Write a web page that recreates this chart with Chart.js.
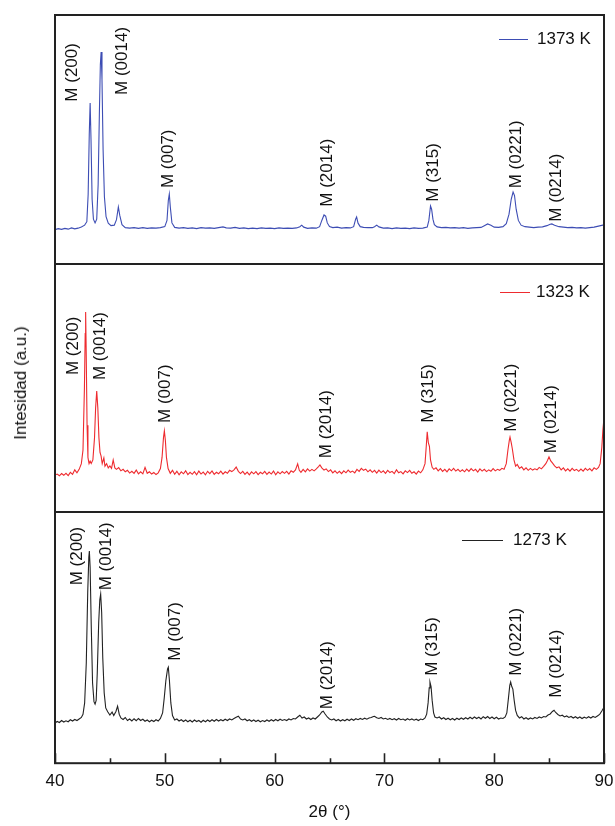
<!DOCTYPE html>
<html>
<head>
<meta charset="utf-8">
<script src="https://cdn.jsdelivr.net/npm/chart.js@4/dist/chart.umd.min.js"></script>
<style>
html,body{margin:0;padding:0;background:#fff;}
body{width:615px;height:826px;position:relative;overflow:hidden;font-family:"Liberation Sans",Arial,sans-serif;}
.panel{position:absolute;left:0;width:630px;}
#ytitle{position:absolute;left:21px;top:383px;transform:translate(-50%,-50%) rotate(-90deg);font-size:17px;white-space:nowrap;color:#111;}
</style>
</head>
<body>
<div class="panel" style="top:0;height:268px"><canvas id="c1"></canvas></div>
<div class="panel" style="top:260px;height:256px"><canvas id="c2"></canvas></div>
<div class="panel" style="top:508px;height:318px"><canvas id="c3"></canvas></div>
<div id="ytitle">Intesidad (a.u.)</div>
<script>
// ---------- DATA ----------
const xTicks = [40, 50, 60, 70, 80, 90];
const xMinorTicks = [45, 55, 65, 75, 85];
const seriesLabels = ['1373 K', '1323 K', '1273 K'];
const xAxisTitle = '2\u03b8 (\u00b0)';
const peakLabels = ['M (200)', 'M (0014)', 'M (007)', 'M (2014)', 'M (315)', 'M (0221)', 'M (0214)'];

// [2theta, intensity a.u.]
const pattern1373 = [
[40.0,13.8],[40.3,14.2],[40.6,13.9],[40.9,14.3],[41.2,14.0],[41.5,14.5],[41.8,14.1],[42.1,14.4],[42.4,14.9],[42.7,15.6],
[42.9,17.0],[43.02,28],[43.12,52],[43.2,64.7],[43.28,50],[43.38,26],[43.5,18],[43.65,16.5],[43.8,18],[43.93,32],
[44.04,60],[44.13,80],[44.2,85.1],[44.28,74],[44.38,46],[44.5,27],[44.65,19],[44.85,16.4],[45.1,15.4],[45.4,15.6],
[45.6,17.8],[45.77,22.9],[45.9,19.5],[46.1,15.8],[46.4,14.6],[46.8,14.4],[47.2,14.6],[47.6,14.3],[48.0,14.6],[48.4,14.3],
[48.8,14.5],[49.2,14.4],[49.6,14.6],[50.0,15.0],[50.2,17.5],[50.32,25.5],[50.41,28.1],[50.5,23],[50.65,16.5],[50.9,14.7],
[51.3,14.4],[51.7,14.6],[52.1,14.3],[52.5,14.5],[52.9,14.2],[53.3,14.6],[53.7,14.4],[54.1,14.5],[54.5,14.3],[54.9,14.6],
[55.3,14.9],[55.6,14.5],[56.0,14.4],[56.4,14.7],[56.8,14.3],[57.2,14.5],[57.6,14.2],[58.0,14.4],[58.4,14.2],[58.8,14.5],
[59.2,14.3],[59.6,14.4],[60.0,14.2],[60.4,14.5],[60.8,14.3],[61.2,14.4],[61.6,14.3],[62.0,14.5],[62.3,15.0],[62.47,15.6],
[62.65,14.8],[63.0,14.3],[63.4,14.5],[63.8,14.4],[64.1,15.0],[64.3,17.5],[64.5,19.7],[64.65,19.2],[64.8,16.5],[65.0,15.0],
[65.3,14.6],[65.7,14.8],[66.1,14.4],[66.5,14.6],[66.9,14.5],[67.2,15.0],[67.38,18.0],[67.47,18.9],[67.6,16.4],[67.8,15.0],
[68.1,14.7],[68.5,14.6],[68.9,14.6],[69.1,15.0],[69.3,15.6],[69.5,14.9],[69.9,14.4],[70.3,14.5],[70.7,14.2],[71.1,14.5],
[71.5,14.3],[71.9,14.4],[72.3,14.2],[72.7,14.5],[73.1,14.3],[73.5,14.4],[73.9,14.8],[74.05,17.5],[74.2,23.3],[74.3,22],
[74.42,18],[74.55,15.8],[74.8,14.9],[75.2,14.6],[75.6,14.7],[76.0,14.5],[76.4,14.6],[76.8,14.4],[77.2,14.6],[77.6,14.3],
[78.0,14.5],[78.4,14.6],[78.8,14.7],[79.1,15.4],[79.4,16.1],[79.7,15.6],[80.0,14.8],[80.4,14.7],[80.8,15.0],[81.1,16.2],
[81.35,20],[81.55,26],[81.72,28.9],[81.85,27.5],[82.0,22],[82.2,17.5],[82.45,15.6],[82.8,15.0],[83.2,14.8],[83.6,14.6],
[84.0,14.8],[84.4,14.9],[84.8,15.4],[85.1,16.0],[85.25,16.1],[85.5,15.6],[85.9,15.0],[86.3,14.8],[86.7,14.6],[87.1,14.7],
[87.5,14.5],[87.9,14.6],[88.3,14.4],[88.7,14.6],[89.1,14.8],[89.5,15.2],[90.0,15.7]
];

const pattern1323 = [
[40.0,14.9],[40.2,15.3],[40.4,14.6],[40.6,15.5],[40.8,14.8],[41.0,15.6],[41.2,14.7],[41.4,16.0],[41.6,15.2],[41.8,17.0],
[42.0,15.8],[42.2,17.2],[42.4,19.5],[42.55,25],[42.68,50],[42.75,72],[42.79,80.6],[42.84,65],[42.92,35],[43.0,22],
[43.1,19.5],[43.2,20.5],[43.3,19.6],[43.45,21],[43.6,30],[43.7,42],[43.8,48.8],[43.9,42],[44.0,30],[44.1,24],
[44.2,22.5],[44.3,19.5],[44.45,21.8],[44.55,18.5],[44.7,19.5],[44.85,17.8],[45.0,18.6],[45.15,17.6],[45.3,21.0],[45.45,17.8],
[45.6,17.2],[45.8,17.9],[46.0,16.6],[46.2,17.2],[46.4,16.2],[46.6,16.8],[46.8,15.7],[47.0,16.4],[47.2,15.6],[47.4,16.9],
[47.6,15.4],[47.8,16.2],[48.0,15.4],[48.2,18.0],[48.4,15.6],[48.6,16.2],[48.8,15.3],[49.0,15.9],[49.2,15.1],[49.4,15.8],
[49.6,17.5],[49.75,22],[49.88,30],[49.96,32.7],[50.05,29],[50.15,22],[50.3,17.5],[50.5,15.6],[50.7,16.8],[50.9,15.2],
[51.1,16.4],[51.3,15.0],[51.5,16.2],[51.7,15.4],[51.9,16.6],[52.1,15.1],[52.3,16.0],[52.5,15.2],[52.7,16.3],[52.9,15.0],
[53.1,16.5],[53.3,15.3],[53.5,16.1],[53.7,15.0],[53.9,16.4],[54.1,15.5],[54.3,16.6],[54.5,15.2],[54.7,16.0],[54.9,15.4],
[55.1,16.5],[55.3,15.3],[55.5,16.2],[55.7,15.6],[55.9,16.8],[56.1,16.3],[56.3,17.0],[56.5,18.1],[56.7,16.4],[56.9,15.5],
[57.1,16.4],[57.3,15.2],[57.5,16.1],[57.7,15.0],[57.9,16.2],[58.1,15.4],[58.3,16.3],[58.5,15.1],[58.7,16.0],[58.9,15.4],
[59.1,16.4],[59.3,15.2],[59.5,16.1],[59.7,15.3],[59.9,16.5],[60.1,15.0],[60.3,16.2],[60.5,15.4],[60.7,16.3],[60.9,15.6],
[61.1,16.4],[61.3,15.3],[61.5,16.6],[61.7,16.0],[61.9,17.0],[62.1,19.4],[62.25,16.8],[62.4,16.0],[62.6,17.2],[62.8,16.2],
[63.0,17.4],[63.2,16.5],[63.4,17.2],[63.6,16.6],[63.8,17.4],[64.0,18.3],[64.13,19.0],[64.3,17.8],[64.5,16.9],[64.7,17.4],
[64.9,16.3],[65.1,17.0],[65.3,15.8],[65.5,16.6],[65.7,15.6],[65.9,16.4],[66.1,15.5],[66.3,16.6],[66.5,15.8],[66.7,16.9],
[66.9,16.0],[67.1,16.5],[67.3,15.8],[67.5,17.2],[67.7,16.4],[67.9,17.6],[68.1,16.8],[68.3,17.3],[68.5,16.2],[68.7,17.0],
[68.9,16.0],[69.1,16.8],[69.3,15.7],[69.5,16.9],[69.7,15.9],[69.9,16.6],[70.1,15.6],[70.3,16.8],[70.5,15.9],[70.7,16.4],
[70.9,15.5],[71.1,17.0],[71.3,15.8],[71.5,16.3],[71.7,15.4],[71.9,16.6],[72.1,15.9],[72.3,16.8],[72.5,15.6],[72.7,16.2],
[72.9,15.3],[73.1,16.5],[73.3,15.8],[73.5,17.0],[73.7,19.5],[73.82,27],[73.9,32.3],[74.0,28],[74.1,26.5],[74.2,21],
[74.35,18],[74.5,17.2],[74.7,17.8],[74.9,16.6],[75.1,17.5],[75.3,16.4],[75.5,17.2],[75.7,16.2],[75.9,17.4],[76.1,16.6],
[76.3,17.6],[76.5,16.5],[76.7,17.2],[76.9,16.3],[77.1,17.0],[77.3,16.2],[77.5,17.3],[77.7,16.4],[77.9,17.5],[78.1,16.6],
[78.3,17.2],[78.5,16.1],[78.7,17.4],[78.9,16.5],[79.1,17.2],[79.3,16.3],[79.5,17.0],[79.7,16.4],[79.9,17.5],[80.1,16.6],
[80.3,17.2],[80.5,16.8],[80.7,17.6],[80.9,17.2],[81.1,19.5],[81.25,25],[81.38,29],[81.44,30.2],[81.55,28],[81.65,25.5],
[81.8,21],[81.95,18.5],[82.1,19.2],[82.3,17.6],[82.5,18.2],[82.7,17.0],[82.9,17.8],[83.1,16.8],[83.3,17.6],[83.5,16.9],
[83.7,17.4],[83.9,17.0],[84.1,18.0],[84.3,17.4],[84.5,18.4],[84.7,19.5],[84.85,20.8],[84.99,22.2],[85.15,20.6],[85.3,19.8],
[85.5,18.6],[85.7,17.8],[85.9,18.2],[86.1,17.0],[86.3,17.8],[86.5,16.6],[86.7,17.4],[86.9,16.5],[87.1,17.6],[87.3,16.7],
[87.5,17.2],[87.7,16.4],[87.9,17.3],[88.1,16.5],[88.3,17.6],[88.5,16.8],[88.7,17.5],[88.9,16.6],[89.1,17.8],[89.3,17.2],
[89.5,18.0],[89.65,19.5],[89.8,26],[89.9,33],[90.0,37.9]
];

const pattern1273 = [
[40.0,16.0],[40.2,16.6],[40.4,16.2],[40.6,17.0],[40.8,16.4],[41.0,16.9],[41.2,16.5],[41.4,17.3],[41.6,16.8],[41.8,17.4],
[42.0,17.0],[42.2,17.6],[42.4,18.2],[42.55,19.5],[42.7,24],[42.85,40],[42.98,68],[43.08,82],[43.13,84.5],[43.2,78],
[43.3,55],[43.42,32],[43.55,24.5],[43.65,23.5],[43.75,25],[43.85,36],[43.98,56],[44.08,65],[44.16,67.3],[44.25,60],
[44.35,42],[44.48,28],[44.62,22],[44.8,20.5],[45.0,19.2],[45.2,20.4],[45.35,19.0],[45.55,20.6],[45.7,22.7],[45.85,19.5],
[46.0,18.0],[46.2,17.4],[46.4,18.2],[46.6,17.0],[46.8,17.6],[47.0,16.8],[47.2,17.7],[47.4,16.9],[47.6,17.8],[47.8,17.0],
[48.0,17.5],[48.2,16.7],[48.4,17.2],[48.6,16.5],[48.8,17.1],[49.0,16.6],[49.2,17.3],[49.4,16.8],[49.6,17.8],[49.8,20],
[49.95,26],[50.1,33],[50.25,37.5],[50.32,38.2],[50.42,33],[50.55,24],[50.7,19],[50.9,17.2],[51.1,17.6],[51.3,16.8],
[51.5,17.3],[51.7,16.6],[51.9,17.2],[52.1,16.5],[52.3,17.1],[52.5,16.4],[52.7,17.2],[52.9,16.6],[53.1,17.0],[53.3,16.3],
[53.5,17.1],[53.7,16.5],[53.9,17.2],[54.1,16.6],[54.3,17.3],[54.5,16.7],[54.7,17.4],[54.9,16.8],[55.1,17.3],[55.3,16.9],
[55.5,17.5],[55.7,17.0],[55.9,17.6],[56.1,17.2],[56.3,17.8],[56.5,18.3],[56.7,18.7],[56.9,17.6],[57.1,17.2],[57.3,17.6],
[57.5,16.9],[57.7,17.3],[57.9,16.7],[58.1,17.2],[58.3,16.6],[58.5,17.1],[58.7,16.5],[58.9,17.0],[59.1,16.6],[59.3,17.2],
[59.5,16.7],[59.7,17.3],[59.9,16.8],[60.1,17.4],[60.3,16.9],[60.5,17.5],[60.7,17.0],[60.9,17.4],[61.1,17.0],[61.3,17.6],
[61.5,17.2],[61.7,17.8],[61.9,17.6],[62.1,18.4],[62.3,19.1],[62.5,18.0],[62.7,18.4],[62.9,17.6],[63.1,18.0],[63.3,17.4],
[63.5,18.0],[63.7,17.6],[63.9,18.4],[64.1,19.2],[64.3,20.4],[64.43,20.7],[64.6,19.6],[64.8,18.4],[65.0,17.6],[65.2,17.2],
[65.4,17.6],[65.6,16.9],[65.8,17.4],[66.0,16.8],[66.2,17.3],[66.4,16.9],[66.6,17.5],[66.8,17.0],[67.0,17.6],[67.2,17.1],
[67.4,17.7],[67.6,17.3],[67.8,17.8],[68.0,17.4],[68.2,17.9],[68.4,17.5],[68.6,18.0],[68.8,18.2],[69.0,18.6],[69.1,18.7],
[69.3,18.1],[69.5,17.8],[69.7,18.2],[69.9,17.6],[70.1,17.9],[70.3,17.4],[70.5,17.8],[70.7,17.3],[70.9,17.7],[71.1,17.2],
[71.3,17.8],[71.5,17.3],[71.7,17.6],[71.9,17.1],[72.1,17.7],[72.3,17.2],[72.5,17.6],[72.7,17.1],[72.9,17.5],[73.1,17.0],
[73.3,17.6],[73.5,17.3],[73.7,18.0],[73.85,19.5],[73.98,24],[74.08,30],[74.15,32.3],[74.25,30.5],[74.35,25],[74.48,20],
[74.6,18.4],[74.8,18.0],[75.0,18.4],[75.2,17.6],[75.4,18.1],[75.6,17.4],[75.8,17.9],[76.0,17.3],[76.2,17.8],[76.4,17.2],
[76.6,17.9],[76.8,17.4],[77.0,18.0],[77.2,17.5],[77.4,18.1],[77.6,17.6],[77.8,18.3],[78.0,17.7],[78.2,18.4],[78.4,17.8],
[78.6,18.3],[78.8,17.6],[79.0,18.5],[79.2,17.9],[79.4,18.6],[79.6,17.8],[79.8,18.4],[80.0,17.7],[80.2,18.3],[80.4,17.6],
[80.6,18.0],[80.8,17.8],[81.0,18.4],[81.15,20],[81.3,26],[81.42,31],[81.5,32.3],[81.6,30.5],[81.7,29.5],[81.82,25],
[81.95,21],[82.1,19.0],[82.3,18.0],[82.5,18.5],[82.7,17.6],[82.9,18.1],[83.1,17.5],[83.3,18.0],[83.5,17.6],[83.7,18.2],
[83.9,17.8],[84.1,18.4],[84.3,18.0],[84.5,18.6],[84.7,18.4],[84.9,19.2],[85.1,19.6],[85.3,20.6],[85.45,21.1],[85.6,20.2],
[85.8,19.4],[86.0,18.8],[86.2,19.1],[86.4,18.4],[86.6,18.8],[86.8,18.2],[87.0,18.6],[87.2,18.0],[87.4,18.5],[87.6,17.9],
[87.8,18.4],[88.0,17.8],[88.2,18.3],[88.4,17.9],[88.6,18.5],[88.8,18.0],[89.0,18.6],[89.2,18.2],[89.4,18.8],[89.6,19.4],
[89.8,20.8],[90.0,22.3]
];

// label anchors (2theta, intensity at the start of the rotated text), in peakLabels order
const labelAt1373 = [[41.58,65.2],[46.17,67.9],[50.32,30.5],[64.8,23.0],[74.45,25.0],[82.05,30.4],[85.69,17.0]];
const labelAt1323 = [[41.67,55.2],[44.1,53.2],[50.02,35.9],[64.68,21.7],[74.0,36.0],[81.59,32.4],[85.24,23.7]];
const labelAt1273 = [[42.03,70.8],[44.71,68.8],[50.93,40.8],[64.8,21.5],[74.4,34.8],[82.05,34.8],[85.69,26.1]];

// ---------- RENDER ----------
const FONT = '"Liberation Sans", Arial, Helvetica, sans-serif';
const TEXT = '#111';
const FRAME = '#222';

const framePlugin = {
  id: 'panelDecor',
  afterDatasetsDraw(chart, args, opts) {
    const ctx = chart.ctx, a = chart.chartArea;
    const xs = chart.scales.x, ys = chart.scales.y;
    ctx.save();
    ctx.fillStyle = TEXT;
    ctx.font = '17px ' + FONT;
    ctx.textAlign = 'left';
    ctx.textBaseline = 'middle';
    opts.labelAt.forEach((p, i) => {
      const px = xs.getPixelForValue(p[0]);
      const py = ys.getPixelForValue(p[1]);
      ctx.save();
      ctx.translate(px, py);
      ctx.rotate(-Math.PI / 2);
      ctx.fillText(peakLabels[i], 0, 0);
      ctx.restore();
    });
    const ds = chart.data.datasets[0];
    const lg = opts.legend;
    ctx.strokeStyle = ds.borderColor;
    ctx.lineWidth = 1;
    ctx.beginPath();
    ctx.moveTo(a.right - lg.lineFromRight, a.top + lg.dy + 0.5);
    ctx.lineTo(a.right - lg.lineFromRight + lg.lineLen, a.top + lg.dy + 0.5);
    ctx.stroke();
    ctx.fillStyle = TEXT;
    ctx.fillText(ds.label, a.right - lg.lineFromRight + lg.lineLen + lg.gap, a.top + lg.dy);
    ctx.strokeStyle = FRAME;
    ctx.lineWidth = 2;
    ctx.strokeRect(a.left, a.top, a.right - a.left, a.bottom - a.top);
    if (opts.ticks) {
      ctx.lineWidth = 1.6;
      ctx.beginPath();
      xTicks.forEach(v => {
        const px = Math.round(xs.getPixelForValue(v)) + 0.5;
        ctx.moveTo(px, a.bottom); ctx.lineTo(px, a.bottom - 10);
      });
      xMinorTicks.forEach(v => {
        const px = Math.round(xs.getPixelForValue(v)) + 0.5;
        ctx.moveTo(px, a.bottom); ctx.lineTo(px, a.bottom - 5);
      });
      ctx.stroke();
    }
    ctx.restore();
  }
};

function makePanel(id, label, data, color, labelAt, legend, padding, showX) {
  return new Chart(document.getElementById(id), {
    type: 'line',
    data: {
      datasets: [{
        label: label,
        data: data.map(p => ({x: p[0], y: p[1]})),
        borderColor: color,
        borderWidth: 1.1,
        pointRadius: 0,
        tension: 0,
        fill: false
      }]
    },
    options: {
      responsive: true,
      maintainAspectRatio: false,
      devicePixelRatio: 1,
      animation: false,
      layout: { padding: padding },
      plugins: {
        legend: { display: false },
        tooltip: { enabled: false },
        panelDecor: { labelAt: labelAt, legend: legend, ticks: showX }
      },
      scales: {
        x: {
          type: 'linear', min: 40, max: 90,
          display: showX,
          border: { display: false },
          grid: { display: false, drawTicks: false },
          afterBuildTicks: s => { s.ticks = xTicks.map(v => ({value: v})); },
          ticks: { color: TEXT, padding: 8, font: { family: FONT, size: 17 }, maxRotation: 0, autoSkip: false },
          title: { display: showX, text: xAxisTitle, color: TEXT, font: { family: FONT, size: 17 }, padding: { top: 3, bottom: 0 } }
        },
        y: { type: 'linear', min: 0, max: 100, display: false }
      }
    },
    plugins: [framePlugin]
  });
}

const PAD_R = 26;
makePanel('c1', seriesLabels[0], pattern1373, '#3d4db4', labelAt1373,
  { lineFromRight: 105, lineLen: 29, gap: 9, dy: 24 }, { top: 15, bottom: 4, left: 55, right: PAD_R }, false);
makePanel('c2', seriesLabels[1], pattern1323, '#ee2b2f', labelAt1323,
  { lineFromRight: 104, lineLen: 30, gap: 6, dy: 28 }, { top: 4, bottom: 4, left: 55, right: PAD_R }, false);
makePanel('c3', seriesLabels[2], pattern1273, '#222222', labelAt1273,
  { lineFromRight: 142, lineLen: 41, gap: 10, dy: 28 }, { top: 4, bottom: 3, left: 55, right: PAD_R }, true);
</script>
</body>
</html>
